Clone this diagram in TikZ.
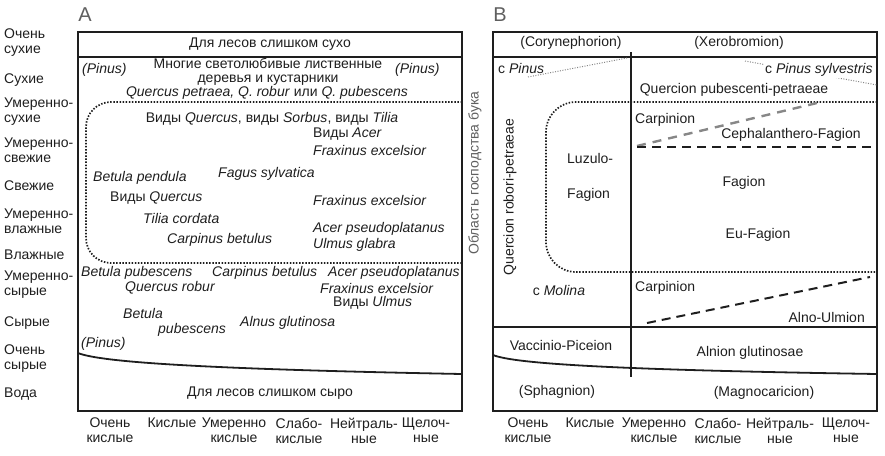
\documentclass[tikz,border=0pt]{standalone}
\usepackage{fontspec}
\setmainfont{Liberation Sans}
\definecolor{ink}  {RGB}{ 30, 30, 30}
\definecolor{lgray}{RGB}{135,135,135}
\definecolor{hgray}{RGB}{ 95, 95, 95}
\tikzset{
  % axis labels
  Lab/.style={font=\fontsize{14}{15}\selectfont,text=ink,align=#1,
              inner sep=0pt},
  Lab/.default=left,
  % plain text
  Tx/.style={font=\fontsize{14}{14.5}\selectfont,text=ink,align=center,
             inner sep=0pt},
  % italic species, left aligned
  Sp/.style={font=\fontsize{14}{14.5}\selectfont\itshape,text=ink,
             inner sep=0pt,anchor=west},
  % panel letter
  Hd/.style={font=\fontsize{20}{20}\selectfont,text=hgray,inner sep=0pt},
  % lines
  Bd/.style={draw=ink,line width=1.3pt},
  Dt/.style={draw=ink,line width=1.7pt,dash pattern=on 1.5pt off 1.6pt},
  Ds/.style={draw=ink,line width=1.4pt,dash pattern=on 9pt off 6pt},
  Gd/.style={draw=lgray,line width=2.4pt,dash pattern=on 9pt off 7pt},
  Td/.style={draw=lgray,line width=1pt,dash pattern=on 1pt off 1.5pt},
  Cv/.style={draw=ink,line width=1.8pt},
}
\begin{document}
\begin{tikzpicture}[x=1pt,y=-1pt]
      \useasboundingbox (0,0) rectangle (885,455);
      % moisture scale
      \node[Lab,anchor=west] at (4,43)  (m1) {Очень\\сухие};
      \node[Lab,anchor=west] at (4,80)  (m2) {Сухие};
      \node[Lab,anchor=west] at (4,112) (m3) {Умеренно-\\сухие};
      \node[Lab,anchor=west] at (4,150) (m4) {Умеренно-\\свежие};
      \node[Lab,anchor=west] at (4,186) (m5) {Свежие};
      \node[Lab,anchor=west] at (4,221) (m6) {Умеренно-\\влажные};
      \node[Lab,anchor=west] at (4,255) (m7) {Влажные};
      \node[Lab,anchor=west] at (4,285) (m8) {Умеренно-\\сырые};
      \node[Lab,anchor=west] at (4,323) (m9) {Сырые};
      \node[Lab,anchor=west] at (4,359) (m10) {Очень\\сырые};
      \node[Lab,anchor=west] at (4,394) (m11) {Вода};
      % panel A
      \node[Hd] at (85,15) (hA) {A};
      \draw[Bd] (78,32) rectangle (462,411);
      \draw[Bd] (78,57) -- (462,57);
      \draw[Dt,rounded corners=25pt] (462,102) -- (86,102) -- (86,263)
            -- (462,263);
      \draw[Cv] (78,353) .. controls (100,362) and (200,369) .. (462,374);
      \node[Tx] at (270,44) (dryA) {Для лесов слишком сухо};
      \node[Sp] at (82,70)  (pa1) {(Pinus)};
      \node[Tx] at (268,72) (many)
            {Многие светолюбивые лиственные\\деревья и кустарники};
      \node[Sp] at (395,70) (pa2) {(Pinus)};
      \node[Tx] at (267,93) (qpet)
            {\textit{Quercus petraea, Q. robur} или \textit{Q. pubescens}};
      \node[Tx] at (272,119) (vq1)
            {Виды \textit{Quercus}, виды \textit{Sorbus}, виды \textit{Tilia}};
      \node[Tx,anchor=west] at (313,134) (acer) {Виды \textit{Acer}};
      \node[Sp] at (313,150) (fr1) {Fraxinus excelsior};
      \node[Sp] at (93,178)  (betp) {Betula pendula};
      \node[Sp] at (218,174) (fag) {Fagus sylvatica};
      \node[Tx,anchor=west] at (110,198) (vq2) {Виды \textit{Quercus}};
      \node[Sp] at (313,200) (fr2) {Fraxinus excelsior};
      \node[Sp] at (143,218) (til) {Tilia cordata};
      \node[Sp] at (313,229) (ap1) {Acer pseudoplatanus};
      \node[Sp] at (167,240) (cb1) {Carpinus betulus};
      \node[Sp] at (313,245) (ulg) {Ulmus glabra};
      \node[Sp] at (81,273)  (bpu) {Betula pubescens};
      \node[Sp] at (212,273) (cb2) {Carpinus betulus};
      \node[Sp] at (328,273) (ap2) {Acer pseudoplatanus};
      \node[Sp] at (125,288) (qr) {Quercus robur};
      \node[Sp] at (320,288) (fr3) {Fraxinus excelsior};
      \node[Tx,anchor=west] at (333,303) (vu) {Виды \textit{Ulmus}};
      \node[Sp] at (123,313) (bet) {Betula};
      \node[Sp] at (158,330) (pub) {pubescens};
      \node[Sp] at (240,323) (aln) {Alnus glutinosa};
      \node[Sp] at (81,344)  (pa3) {(Pinus)};
      \node[Tx] at (270,393) (wetA) {Для лесов слишком сыро};
      % acidity scale A
      \node[Lab=center,anchor=north] at (110,418) (a1) {Очень\\кислые};
      \node[Lab=center,anchor=north] at (172,418) (a2) {Кислые};
      \node[Lab=center,anchor=north] at (234,418) (a3) {Умеренно\\кислые};
      \node[Lab=center,anchor=north] at (299,418) (a4) {Слабо-\\кислые};
      \node[Lab=center,anchor=north] at (364,418) (a5) {Нейтраль-\\ные};
      \node[Lab=center,anchor=north] at (426,418) (a6) {Щелоч-\\ные};
      % beech zone
      \node[Tx,text=hgray,rotate=90] at (475,173) (obl)
            {Область господства бука};
      % panel B
      \node[Hd] at (500,15) (hB) {B};
      \draw[Bd] (493,32) rectangle (877,411);
      \draw[Bd] (493,57) -- (877,57);
      \draw[Bd] (631,52) -- (631,377);
      \draw[Bd] (493,327) -- (877,327);
      \draw[Dt,rounded corners=30pt] (877,102) -- (546,102) -- (546,272)
            -- (877,272);
      \draw[Cv] (493,355) .. controls (515,364) and (620,370) .. (877,374);
      \draw[Td] (528,77) -- (627,58);
      \draw[Td] (745,61) -- (877,85);
      \draw[Gd] (637,146) -- (817,103);
      \draw[Ds] (637,147) -- (877,147);
      \draw[Ds,line width=2pt] (647,323) -- (870,277);
      \node[Tx] at (571,43) (cory) {(Corynephorion)};
      \node[Tx] at (739,43) (xero) {(Xerobromion)};
      \node[Tx,anchor=west] at (498,68) (cpin) {с \textit{Pinus}};
      \node[Tx,anchor=west,fill=white,inner sep=1pt] at (764,70) (cpsy)
            {с \textit{Pinus sylvestris}};
      \node[Tx] at (734,90) (qpub) {Quercion pubescenti-petraeae};
      \node[Tx,anchor=west] at (635,120) (crp1) {Carpinion};
      \node[Tx] at (791,135) (ceph) {Cephalanthero-Fagion};
      \node[Tx,anchor=west] at (567,158) (luz) {Luzulo-};
      \node[Tx,anchor=west] at (567,195) (lfag) {Fagion};
      \node[Tx] at (744,183) (fagn) {Fagion};
      \node[Tx] at (758,235) (eufg) {Eu-Fagion};
      \node[Tx,rotate=90] at (510,197) (qrp) {Quercion robori-petraeae};
      \node[Tx] at (559,290) (mol) {с \textit{Molina}};
      \node[Tx,anchor=west] at (635,288) (crp2) {Carpinion};
      \node[Tx,anchor=east] at (865,317) (alul) {Alno-Ulmion};
      \node[Tx] at (561,345) (vacc) {Vaccinio-Piceion};
      \node[Tx] at (750,353) (alng) {Alnion glutinosae};
      \node[Tx] at (557,392) (sph) {(Sphagnion)};
      \node[Tx] at (764,393) (mag) {(Magnocaricion)};
      % acidity scale B
      \node[Lab=center,anchor=north] at (528,418) (b1) {Очень\\кислые};
      \node[Lab=center,anchor=north] at (590,418) (b2) {Кислые};
      \node[Lab=center,anchor=north] at (654,418) (b3) {Умеренно\\кислые};
      \node[Lab=center,anchor=north] at (718,418) (b4) {Слабо-\\кислые};
      \node[Lab=center,anchor=north] at (780,418) (b5) {Нейтраль-\\ные};
      \node[Lab=center,anchor=north] at (846,418) (b6) {Щелоч-\\ные};
    \end{tikzpicture}
\end{document}
